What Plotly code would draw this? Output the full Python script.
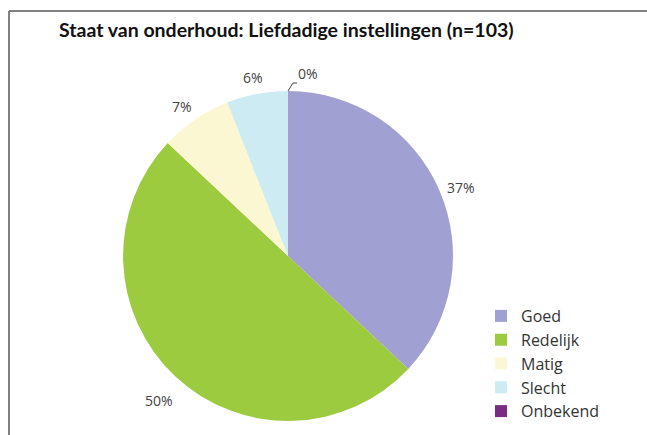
import math
import plotly.graph_objects as go

categories = ["Goed", "Redelijk", "Matig", "Slecht", "Onbekend"]
values = [37, 50, 7, 6, 0]
colors = ["#A0A0D2", "#9DCB3F", "#FAF7D2", "#CDEBF2", "#7B2A82"]
title = "Staat van onderhoud: Liefdadige instellingen (n=103)"

W, H = 647, 435
cx, cy, R = 288, 256, 165


def px(x):
    return x / W


def py(y):
    return 1 - y / H


fig = go.Figure(go.Pie(
    labels=categories, values=values, marker=dict(colors=colors, line=dict(width=0)),
    sort=False, direction="clockwise", rotation=0, textinfo="none", hoverinfo="label+percent",
    domain=dict(x=[px(cx - R), px(cx + R)], y=[py(cy + R), py(cy - R)]),
))

# percentage labels
total = sum(values)
cum = 0
anns = []
for v in values:
    mid = (cum + v / 2) / total * 2 * math.pi
    cum += v
    if v == 0:
        continue
    rr = R + 24
    x = cx + rr * math.sin(mid)
    y = cy - rr * math.cos(mid) + 7
    anns.append(dict(x=px(x), y=py(y), xref="paper", yref="paper", text=f"{v}%", showarrow=False,
                     xanchor="center", yanchor="middle",
                     font=dict(size=14, color="#444", family="Open Sans")))
# zero label with leader line
anns.append(dict(x=px(cx + 8), y=py(cy - R - 6), xref="paper", yref="paper", text="0%",
                 showarrow=False, xanchor="left", yanchor="bottom",
                 font=dict(size=14, color="#444", family="Open Sans")))

shapes = [
    dict(type="line", xref="paper", yref="paper", x0=px(9), y0=py(11), x1=1, y1=py(11),
         line=dict(color="#808080", width=2)),
    dict(type="line", xref="paper", yref="paper", x0=px(9), y0=py(11), x1=px(9), y1=0,
         line=dict(color="#808080", width=2)),
    dict(type="path", xref="paper", yref="paper",
         path=f"M {px(cx)} {py(cy - R)} L {px(cx + 5)} {py(cy - R - 8)} L {px(cx + 9)} {py(cy - R - 8)}",
         line=dict(color="#444", width=1)),
]

fig.update_layout(
    width=W, height=H, margin=dict(l=0, r=0, t=0, b=0),
    paper_bgcolor="white", plot_bgcolor="white",
    title=dict(text=title, x=px(59), xanchor="left", y=py(30), yanchor="middle",
               font=dict(size=19.5, color="#111", family="Lato", weight="bold")),
    legend=dict(x=px(481), y=py(299), xanchor="left", yanchor="top",
                font=dict(size=16, color="#333", family="Open Sans"), tracegroupgap=0),
    annotations=anns, shapes=shapes,
)
fig.write_html(
    "out.html",
    config={"displayModeBar": False},
    post_script="document.body.style.margin='0';document.documentElement.style.overflow='hidden';document.body.style.overflow='hidden';",
)
